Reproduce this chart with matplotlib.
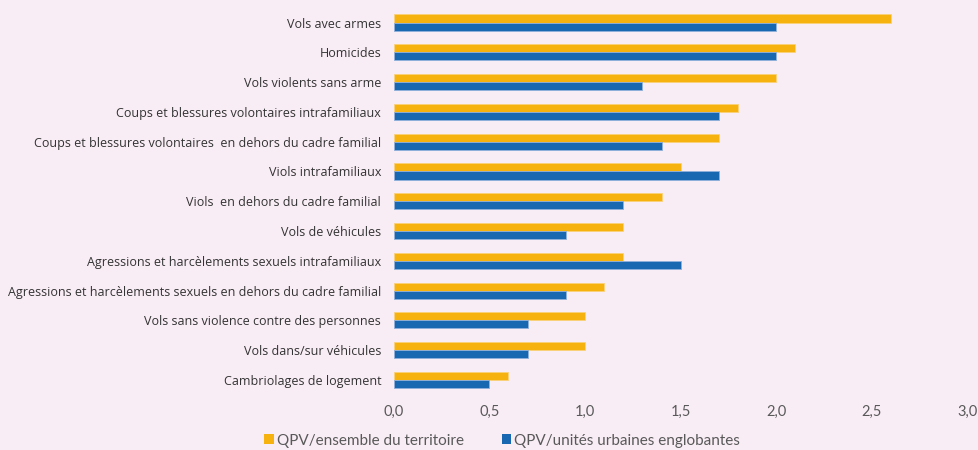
import matplotlib
matplotlib.use("Agg")
import matplotlib.pyplot as plt
from matplotlib.patches import Patch
import numpy as np

categories = [
    "Vols avec armes",
    "Homicides",
    "Vols violents sans arme",
    "Coups et blessures volontaires intrafamiliaux",
    "Coups et blessures volontaires  en dehors du cadre familial",
    "Viols intrafamiliaux",
    "Viols  en dehors du cadre familial",
    "Vols de véhicules",
    "Agressions et harcèlements sexuels intrafamiliaux",
    "Agressions et harcèlements sexuels en dehors du cadre familial",
    "Vols sans violence contre des personnes",
    "Vols dans/sur véhicules",
    "Cambriolages de logement",
]
territoire = [2.6, 2.1, 2.0, 1.8, 1.7, 1.5, 1.4, 1.2, 1.2, 1.1, 1.0, 1.0, 0.6]
unites_urbaines = [2.0, 2.0, 1.3, 1.7, 1.4, 1.7, 1.2, 0.9, 1.5, 0.9, 0.7, 0.7, 0.5]
series_names = ["QPV/ensemble du territoire", "QPV/unités urbaines englobantes"]
x_ticks = [0.0, 0.5, 1.0, 1.5, 2.0, 2.5, 3.0]

BG = "#f9edf5"
YELLOW = "#f6b20f"
BLUE = "#1868b1"
TEXT = "#333333"

plt.rcParams["font.family"] = ["Open Sans", "DejaVu Sans"]

fig = plt.figure(figsize=(9.79, 4.5), dpi=100, facecolor=BG)
ax = fig.add_axes([0.4021, 0.1224, 0.5863, 0.8607], facecolor=BG)

y = np.arange(len(categories))
h = 0.27
ax.barh(y - h / 2, territoire, height=h, color=YELLOW, edgecolor="#fbd27a", linewidth=0.6)
ax.barh(y + h / 2, unites_urbaines, height=h, color=BLUE, edgecolor="#8fb0dc", linewidth=0.6)

ax.set_xlim(0, 3.0)
ax.set_ylim(len(categories) - 0.5, -0.5)
ax.set_yticks(y)
ax.set_yticklabels(categories, fontsize=9.0, color=TEXT)
ax.set_xticks(x_ticks)
ax.set_xticklabels([f"{v:.1f}".replace(".", ",") for v in x_ticks],
                   family=["Lato", "DejaVu Sans"], fontsize=10.5, color="#595959")
ax.tick_params(axis="y", length=0, pad=9)
ax.tick_params(axis="x", length=0, pad=7)
for s in ax.spines.values():
    s.set_visible(False)

handles = [Patch(facecolor=YELLOW, edgecolor="none"), Patch(facecolor=BLUE, edgecolor="none")]
fig.legend(handles, series_names, loc="center", bbox_to_anchor=(0.513, 0.021), ncol=2,
           frameon=False, handlelength=0.6, handleheight=0.6, handletextpad=0.2,
           columnspacing=2.5, labelcolor="#595959",
           prop={"family": ["Lato", "DejaVu Sans"], "size": 11})

fig.savefig("out.png", dpi=100, facecolor=BG)
